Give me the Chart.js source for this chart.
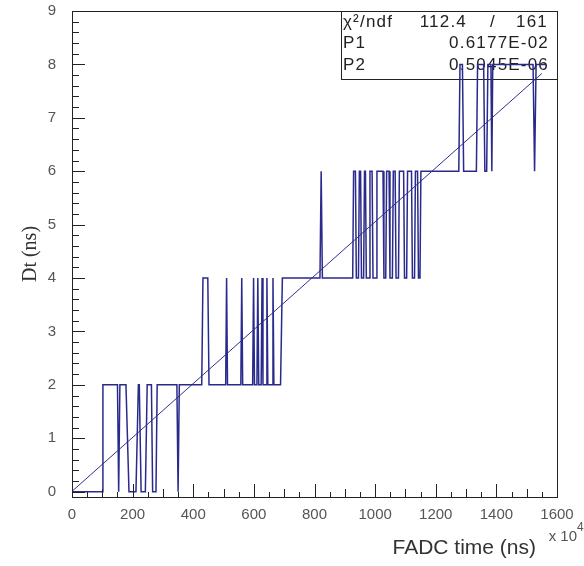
<!DOCTYPE html>
<html><head><meta charset="utf-8">
<script src="https://cdn.jsdelivr.net/npm/chart.js@4/dist/chart.umd.min.js"></script>
<style>html,body{margin:0;padding:0;background:#fff}#wrap{width:584px;height:566px}</style>
</head><body><div id="wrap"><canvas id="c" width="584" height="566"></canvas></div>
<script>
// FADC time (x 10^4 ns) and measured Dt (ns)
const fadcTime = [0,99,102,150,154,158,178,188,211,219,222,228,242,248,262,266,277,281,346,350,354,
  428,432,448,452,507,510,513,557,560,563,596,599,602,610,613,616,624,627,630,640,643,646,660,663,666,688,694,
  818,822,826,926,
  929,935,938,945,948,952,955,962,965,968,971,980,983,990,993,1003,1006,1026,1029,1035,1038,1046,1049,1057,1060,1066,1069,1077,1080,1094,1097,1104,1107,1120,1123,1130,1133,1140,1143,1148,1151,
  1276,1280,1288,1292,1334,1338,1358,1362,1368,1372,1382,1385,1388,1521,1526,1531,1565];
const dtValues = [0,0,2,2,0,2,2,0,0,2,2,0,0,2,2,0,0,2,2,0,2,
  2,4,4,2,2,4,2,2,4,2,2,4,2,2,4,2,2,4,2,2,4,2,2,4,2,2,4,
  4,6,4,4,
  6,6,4,4,6,6,4,4,6,6,4,4,6,6,4,4,6,6,4,4,6,6,4,4,6,6,4,4,6,6,4,4,6,6,4,4,6,6,4,4,6,
  6,8,8,6,6,8,8,6,6,8,8,6,8,8,6,8,8];
// fit line (pol1) end points
const fitTime = [0, 1550];
const fitValues = [0.006, 7.83];
// axis ticks
const xTickValues = [0,200,400,600,800,1000,1200,1400,1600];
const yTickValues = [0,1,2,3,4,5,6,7,8,9];
// stats box
const statsLabels = ["\u03C7\u00B2/ndf", "P1", "P2"];
const statsValues = ["161", "0.6177E-02", "0.5045E-06"];
const chiValue = "112.4";

const lineColor = '#2a2a8c';

const rootPlugin = {
  id: 'rootStyle',
  beforeDatasetsDraw(chart) {
    const {ctx, chartArea: a} = chart;
    ctx.save();
    const bx = 341, by = Math.round(a.top), bw = Math.round(a.right) - 341, bh = 79 - Math.round(a.top);
    ctx.fillStyle = '#fff';
    ctx.fillRect(bx, by, bw, bh);
    ctx.strokeStyle = '#222';
    ctx.lineWidth = 1;
    ctx.strokeRect(bx + 0.5, by + 0.5, bw, bh);
    ctx.fillStyle = '#222';
    ctx.font = '17px "Liberation Sans", Arial, sans-serif';
    ctx.letterSpacing = '1.2px';
    ctx.textBaseline = 'middle';
    const rows = [22, 43.5, 65];
    ctx.textAlign = 'left';
    statsLabels.forEach((t, i) => ctx.fillText(t, 343, rows[i]));
    ctx.textAlign = 'right';
    ctx.fillText(chiValue, 467, rows[0]);
    ctx.textAlign = 'center';
    ctx.fillText('/', 493, rows[0]);
    ctx.textAlign = 'right';
    ctx.fillText(statsValues[0], 548, rows[0]);
    ctx.fillText(statsValues[1], 549, rows[1]);
    ctx.fillText(statsValues[2], 549, rows[2]);
    ctx.restore();
  },
  afterDatasetsDraw(chart) {
    const {ctx, chartArea: a, scales} = chart;
    const xs = scales.x, ys = scales.y;
    ctx.save();
    ctx.strokeStyle = '#222';
    ctx.lineWidth = 1;
    ctx.beginPath();
    for (let k = 0; k <= 45; k++) {
      const v = k / 5;
      const py = Math.round(ys.getPixelForValue(v)) + 0.5;
      const len = (k % 5 === 0) ? 13 : 7;
      ctx.moveTo(a.left, py); ctx.lineTo(a.left + len, py);
    }
    for (let k = 0; k <= 32; k++) {
      const v = k * 50;
      const px = Math.round(xs.getPixelForValue(v)) + 0.5;
      const len = (k % 4 === 0) ? 13 : (k % 2 === 0 ? 8 : 5);
      ctx.moveTo(px, a.bottom); ctx.lineTo(px, a.bottom - len);
    }
    ctx.stroke();
    ctx.strokeRect(Math.round(a.left) + 0.5, Math.round(a.top) + 0.5, Math.round(a.right - a.left), Math.round(a.bottom - a.top));
    ctx.fillStyle = '#555';
    ctx.font = '15px "Liberation Sans", Arial, sans-serif';
    ctx.textBaseline = 'middle';
    ctx.textAlign = 'right';
    ctx.fillText('x 10', 577, 537);
    ctx.textAlign = 'left';
    ctx.font = '12px "Liberation Sans", Arial, sans-serif';
    ctx.fillText('4', 577, 528);
    ctx.restore();
  }
};

new Chart(document.getElementById('c'), {
  type: 'scatter',
  data: {
    datasets: [
      {
        label: 'Dt',
        data: fadcTime.map((x, i) => ({x, y: dtValues[i]})),
        showLine: true,
        borderColor: lineColor,
        borderWidth: 1.5,
        pointRadius: 0,
        tension: 0
      },
      {
        label: 'fit',
        data: fitTime.map((x, i) => ({x, y: fitValues[i]})),
        showLine: true,
        borderColor: '#30308e',
        borderWidth: 1,
        pointRadius: 0,
        tension: 0
      }
    ]
  },
  options: {
    responsive: false,
    animation: false,
    devicePixelRatio: 1,
    layout: {padding: {left: 0, right: 27, top: 11, bottom: 0}},
    plugins: {legend: {display: false}, tooltip: {enabled: false}},
    scales: {
      x: {
        type: 'linear',
        min: 0, max: 1600,
        afterFit: s => { s.height = 69; s.paddingLeft = 0; s.paddingRight = 0; },
        afterBuildTicks: s => { s.ticks = xTickValues.map(v => ({value: v})); },
        grid: {display: false, drawTicks: false},
        border: {display: false},
        ticks: {color: '#555', font: {family: '"Liberation Sans", Arial, sans-serif', size: 15}, padding: 9, maxRotation: 0, autoSkip: false,
                callback: v => String(v)},
        title: {display: true, text: 'FADC time (ns)\u2003', align: 'end', color: '#333',
                font: {family: '"Liberation Sans", Arial, sans-serif', size: 21}, padding: {top: 0, bottom: 5}}
      },
      y: {
        type: 'linear',
        min: -0.1, max: 9,
        afterFit: s => { s.width = 72; s.paddingTop = 0; s.paddingBottom = 0; },
        afterBuildTicks: s => { s.ticks = yTickValues.map(v => ({value: v})); },
        grid: {display: false, drawTicks: false},
        border: {display: false},
        ticks: {color: '#555', font: {family: '"Liberation Sans", Arial, sans-serif', size: 15}, padding: 16, autoSkip: false,
                callback: v => String(v)},
        title: {display: true, text: 'Dt (ns)', color: '#333',
                font: {family: '"Liberation Serif", "Times New Roman", serif', size: 20}, padding: {top: 19, bottom: 0}}
      }
    }
  },
  plugins: [rootPlugin]
});
</script>
</body></html>
